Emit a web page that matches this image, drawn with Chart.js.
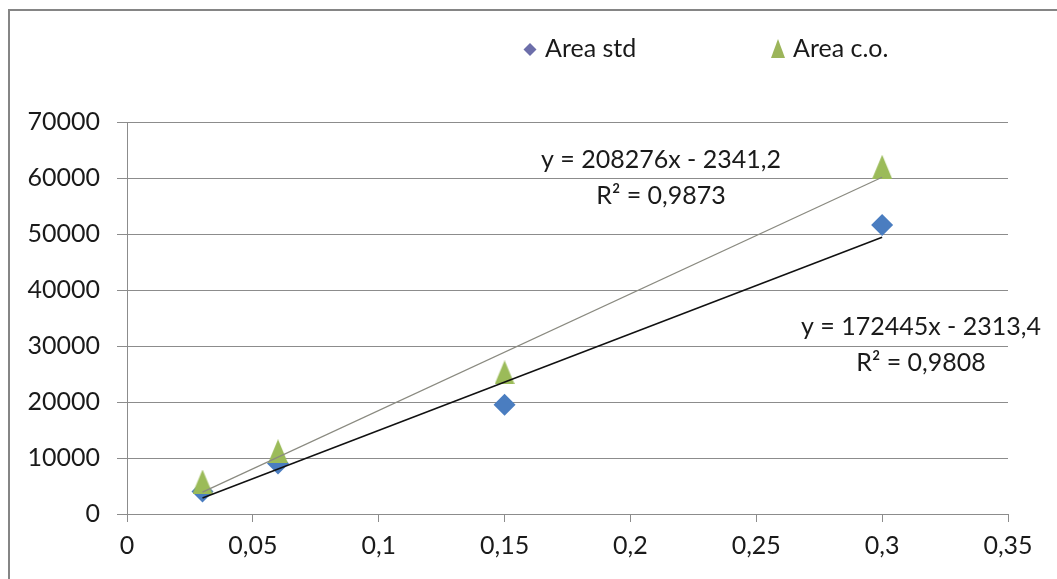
<!DOCTYPE html>
<html>
<head>
<meta charset="utf-8">
<script src="https://cdn.jsdelivr.net/npm/chart.js@4"></script>
<style>
  html, body { margin: 0; padding: 0; background: #fff; }
  #wrap { width: 1057px; height: 579px; position: relative; }
</style>
</head>
<body>
<div id="wrap"><canvas id="c" width="1057" height="579"></canvas></div>
<script>
// ---- data ----
const xValues = [0.03, 0.06, 0.15, 0.3];
const areaStd = [4000, 9000, 19500, 51600];
const areaCo = [5800, 11200, 25300, 62000];
const seriesNames = ['Area std', 'Area c.o.'];
// trendline coefficients as printed on the chart
const stdSlope = 172445, stdIntercept = -2313.4;
const coSlope = 208276, coIntercept = -2341.2;
const trendRange = [0.03, 0.3];
const stdLabel = ['y = 172445x - 2313,4', 'R² = 0,9808'];
const coLabel = ['y = 208276x - 2341,2', 'R² = 0,9873'];
const xTickLabels = ['0', '0,05', '0,1', '0,15', '0,2', '0,25', '0,3', '0,35'];
const yTickLabels = ['0', '10000', '20000', '30000', '40000', '50000', '60000', '70000'];

const FONT = 'Lato, "Open Sans", sans-serif';
const BLUE = '#4a7dc0';
const GREEN = '#9bbb59';

const toPts = (xs, ys) => xs.map((x, i) => ({ x: x, y: ys[i] }));
const trend = (m, b) => trendRange.map(x => ({ x: x, y: m * x + b }));

// tall triangle marker like the reference
function makeTriangle(w, h, color) {
  const cv = document.createElement('canvas');
  cv.width = w; cv.height = h;
  const g = cv.getContext('2d');
  g.fillStyle = color;
  g.beginPath();
  g.moveTo(w / 2, 0); g.lineTo(w, h); g.lineTo(0, h); g.closePath();
  g.fill();
  return cv;
}
const triImg = makeTriangle(20, 24, GREEN);

const overlay = {
  id: 'overlay',
  beforeDraw(chart) {
    const ctx = chart.ctx;
    ctx.save();
    ctx.fillStyle = '#fff';
    ctx.fillRect(0, 0, chart.width, chart.height);
    ctx.strokeStyle = '#858585';
    ctx.lineWidth = 2;
    ctx.beginPath();
    ctx.moveTo(9, chart.height + 5);
    ctx.lineTo(9, 10);
    ctx.lineTo(chart.width + 5, 10);
    ctx.stroke();
    ctx.restore();
  },
  afterDraw(chart) {
    const ctx = chart.ctx;
    ctx.save();
    ctx.font = '25px ' + FONT;
    ctx.fillStyle = '#1a1a1a';
    ctx.textBaseline = 'middle';
    // legend
    ctx.textAlign = 'left';
    ctx.fillStyle = '#6c6eaa';
    ctx.beginPath();
    ctx.moveTo(530, 43); ctx.lineTo(536.5, 49.5); ctx.lineTo(530, 56); ctx.lineTo(523.5, 49.5); ctx.closePath();
    ctx.fill();
    ctx.fillStyle = '#1a1a1a';
    ctx.fillText(seriesNames[0], 545, 49);
    ctx.fillStyle = '#9cb55a';
    ctx.beginPath();
    ctx.moveTo(778, 39); ctx.lineTo(785, 58); ctx.lineTo(771, 58); ctx.closePath();
    ctx.fill();
    ctx.fillStyle = '#1a1a1a';
    ctx.fillText(seriesNames[1], 793, 49);
    // trendline labels
    ctx.textAlign = 'center';
    ctx.fillText(coLabel[0], 661, 160);
    ctx.fillText(coLabel[1], 661, 196);
    ctx.fillText(stdLabel[0], 921, 327);
    ctx.fillText(stdLabel[1], 921, 363);
    ctx.restore();
  }
};

new Chart(document.getElementById('c'), {
  type: 'scatter',
  data: {
    datasets: [
      {
        label: seriesNames[0],
        data: toPts(xValues, areaStd),
        pointStyle: 'rectRot',
        pointRadius: 11,
        backgroundColor: BLUE,
        borderColor: BLUE,
        borderWidth: 0,
        order: 2
      },
      {
        label: seriesNames[1],
        data: toPts(xValues, areaCo),
        pointStyle: triImg,
        pointRadius: 12,
        backgroundColor: GREEN,
        borderColor: GREEN,
        borderWidth: 0,
        order: 1
      },
      {
        label: 'trend std',
        data: trend(stdSlope, stdIntercept),
        showLine: true,
        pointRadius: 0,
        borderColor: '#111',
        borderWidth: 1.5,
        order: 0
      },
      {
        label: 'trend co',
        data: trend(coSlope, coIntercept),
        showLine: true,
        pointRadius: 0,
        borderColor: '#8a8a80',
        borderWidth: 1.2,
        order: 0
      }
    ]
  },
  options: {
    responsive: false,
    animation: false,
    events: [],
    layout: { padding: { top: 122, right: 49, left: 0, bottom: 0 } },
    plugins: {
      legend: { display: false },
      tooltip: { enabled: false },
      title: { display: false }
    },
    scales: {
      x: {
        type: 'linear',
        min: 0, max: 0.35,
        afterFit(s) { s.height = 65; },
        ticks: {
          stepSize: 0.05,
          padding: 9,
          color: '#1a1a1a',
          font: { family: FONT, size: 25 },
          maxRotation: 0,
          callback: (v, i) => xTickLabels[i]
        },
        grid: {
          drawOnChartArea: false,
          drawTicks: true,
          tickLength: 8,
          color: '#8c8c8c'
        },
        border: { color: '#8c8c8c', width: 1 }
      },
      y: {
        type: 'linear',
        min: 0, max: 70000,
        afterFit(s) { s.width = 127; },
        ticks: {
          stepSize: 10000,
          padding: 17,
          color: '#1a1a1a',
          font: { family: FONT, size: 25 },
          callback: (v, i) => yTickLabels[i]
        },
        grid: {
          color: '#8c8c8c',
          lineWidth: 1,
          drawTicks: true,
          tickLength: 10
        },
        border: { color: '#8c8c8c', width: 1 }
      }
    }
  },
  plugins: [overlay]
});
</script>
</body>
</html>
